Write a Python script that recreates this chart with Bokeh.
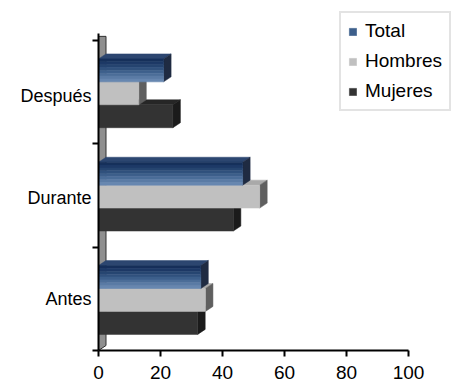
from bokeh.plotting import figure
from bokeh.models import Range1d, FixedTicker, Legend, LegendItem
from bokeh.embed import file_html
from bokeh.resources import INLINE

# ---- data ----
categories = ["Antes", "Durante", "Después"]
total = [33, 46.5, 21]
hombres = [34.5, 52, 13]
mujeres = [32, 43.5, 24]
x_ticks = [0, 20, 40, 60, 80, 100]

FONT = "Liberation Sans"

W, HGT = 452, 385
LEFT, BOTTOM = 98, 35
PX_X = 310 / 100.0          # px per x unit
PX_Y = 310 / 3.0            # px per category band
x_end = (W - LEFT) / PX_X
y_end = (HGT - BOTTOM) / PX_Y

p = figure(width=W, height=HGT, output_backend="svg", toolbar_location=None,
           x_range=Range1d(0, x_end), y_range=Range1d(0, y_end),
           min_border_left=LEFT, min_border_right=0, min_border_top=0, min_border_bottom=BOTTOM)
p.outline_line_color = None
p.xgrid.grid_line_color = None
p.ygrid.grid_line_color = None
p.background_fill_color = "white"

# 3D depth in data units
DX = 7.5 / PX_X
DY = 5 / PX_Y
H = 0.222
offsets = {"mujeres": 0.267, "hombres": 0.489, "total": 0.711}

# left wall
p.patch([0, DX, DX, 0], [0, DY, 3 + 0.04, 3 + 0.04], fill_color="#8f8f8f", line_color="#303030", line_width=1)


def faces(vals, off):
    side_xs, side_ys, top_xs, top_ys, ys = [], [], [], [], []
    for i, v in enumerate(vals):
        yc = i + off
        y0, y1 = yc - H / 2, yc + H / 2
        ys.append(yc)
        side_xs.append([v, v + DX, v + DX, v])
        side_ys.append([y0, y0 + DY, y1 + DY, y1])
        top_xs.append([0, DX, v + DX, v])
        top_ys.append([y1, y1 + DY, y1 + DY, y1])
    return side_xs, side_ys, top_xs, top_ys, ys


legend_r = {}
series = [("mujeres", mujeres, "#333333", "#1b1b1b", "#262626"),
          ("hombres", hombres, "#c0c0c0", "#5f5f5f", "#a9a9a9"),
          ("total", total, None, "#1f2b42", "#2c4670")]
for name, vals, front, side, top in series:
    sx, sy, tx, ty, ys = faces(vals, offsets[name])
    p.patches(tx, ty, fill_color=top, line_color=top, line_width=0.5)
    p.patches(sx, sy, fill_color=side, line_color=side, line_width=0.5)
    if front is not None:
        r = p.hbar(y=ys, left=0, right=vals, height=H, fill_color=front, line_color=front, line_width=0.5)
        legend_r[name] = r
    else:
        grad = ["#16305a", "#1d3966", "#264570", "#30517d", "#3d5f8b", "#4b6d98",
                "#5a7ba5", "#6787b0"]
        n = len(grad)
        for k, c in enumerate(grad):
            yk = [y + H / 2 - (k + 0.5) * H / n for y in ys]
            r = p.hbar(y=yk, left=0, right=vals, height=H / n, fill_color=c, line_color=c, line_width=0.6)
            if k == 4:
                legend_r[name] = r

# axes
xa = p.xaxis[0]
xa.ticker = FixedTicker(ticks=x_ticks)
xa.bounds = (0, 100)
xa.axis_line_width = 2
xa.major_tick_line_width = 2
xa.major_tick_out = 6
xa.major_tick_in = 0
xa.minor_tick_line_color = None
xa.major_label_text_font = FONT
xa.major_label_text_font_size = "19px"
xa.major_label_text_color = "black"
xa.major_label_standoff = 9

label_pos = [0.5, 1.48, 2.46]
ya = p.yaxis[0]
ya.ticker = FixedTicker(ticks=label_pos, minor_ticks=[0, 1, 2, 3])
ya.bounds = (0, 3.07)
ya.major_label_overrides = {pos: cat for pos, cat in zip(label_pos, categories)}
ya.axis_line_width = 2
ya.major_tick_line_color = None
ya.major_tick_out = 0
ya.major_tick_in = 0
ya.minor_tick_line_width = 2
ya.minor_tick_out = 6
ya.minor_tick_in = 0
ya.major_label_text_font = FONT
ya.major_label_text_font_size = "18px"
ya.major_label_text_color = "black"
ya.major_label_standoff = 1

legend = Legend(items=[LegendItem(label="Total", renderers=[legend_r["total"]]),
                       LegendItem(label="Hombres", renderers=[legend_r["hombres"]]),
                       LegendItem(label="Mujeres", renderers=[legend_r["mujeres"]])],
                location=(241, 239))
legend.border_line_color = "#c8c8c8"
legend.border_line_width = 2
legend.background_fill_color = "white"
legend.label_text_font = FONT
legend.label_text_font_size = "19px"
legend.label_text_color = "black"
legend.glyph_width = 9
legend.glyph_height = 9
legend.label_height = 21
legend.label_standoff = 8
legend.spacing = 8
legend.padding = 7
legend.margin = 0
p.add_layout(legend, "center")

open("out.html", "w").write(file_html(p, INLINE))
